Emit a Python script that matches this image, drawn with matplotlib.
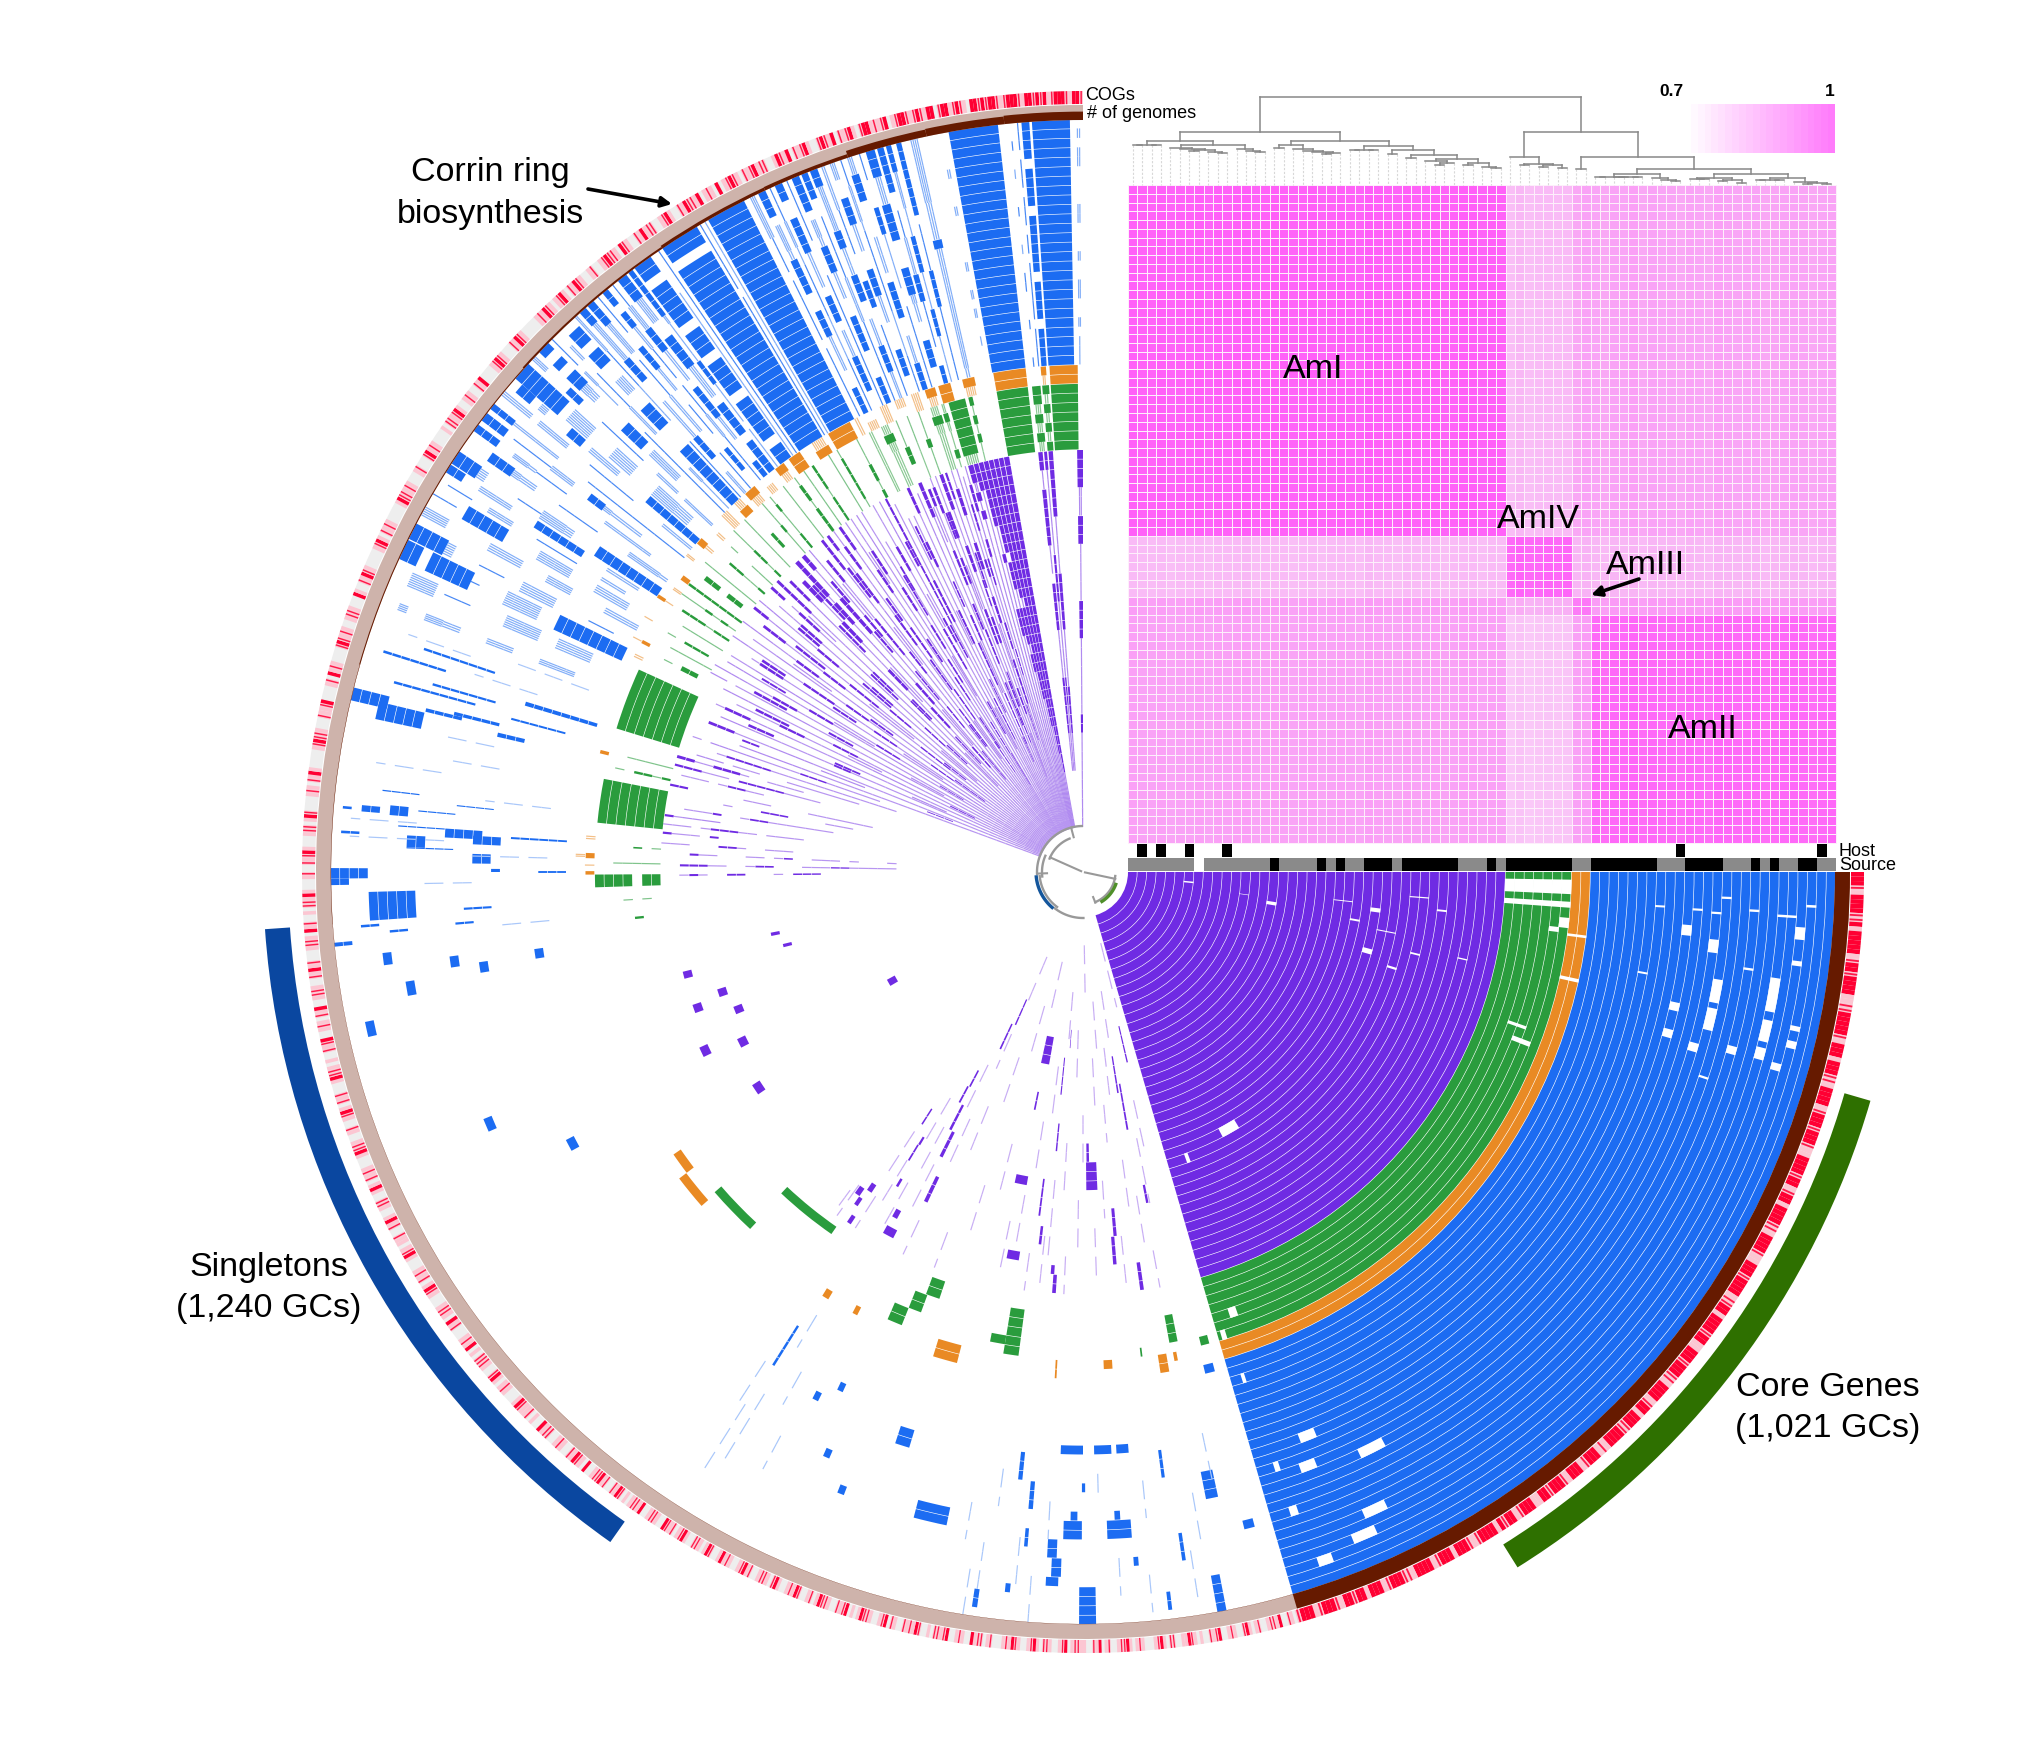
import matplotlib
matplotlib.use("Agg")
import matplotlib.pyplot as plt
import numpy as np
from matplotlib.collections import PatchCollection
from matplotlib.colors import LinearSegmentedColormap, ListedColormap, to_rgb
from matplotlib.patches import Wedge

plt.rcParams["font.family"] = ["Liberation Sans", "DejaVu Sans"]

# genome layers: AmI, AmIV, AmIII, AmII
group_sizes = [40, 7, 2, 26]
group_names = ["AmI", "AmIV", "AmIII", "AmII"]
group_colors = ["#6f2be3", "#2a9c3d", "#e98a24", "#1c6cf2"]
hair_strength = [0.5, 0.6, 0.5, 0.8]
ani = [
    [0.99, 0.835, 0.875, 0.875],
    [0.835, 0.98, 0.85, 0.843],
    [0.885, 0.855, 0.95, 0.89],
    [0.88, 0.815, 0.885, 0.975],
]
col_tweak = "211201120212301210120121032102112012202103012120210213021102103211201221012"
source_kind = "GGGGGGGWGGGGGGGBGGGGBGBGGBBBGBBBBBBGGGBGBBBBBBBGGBBBBBBBGGGBBBBGGGBGBGGBBGG"
host_cols = [1, 3, 6, 10, 58, 73]

# gene cluster rows: angle from, angle to, presence per genome
# '#' full, ':' fine hatch, '+' hairline, '.' none
purple_rows = [
    (269.2, 270.0, "::::::::::##::::::::####::::::###:::####"),
    (265.3, 265.9, "......::::#####::::::######::::::#######"),
    (264.7, 265.1, "......:::::::###::::::::#####:::::::::##"),
    (263.9, 264.5, "......::::######:::::#####.:::######::##"),
    (259.2, 259.9, "::::::##################################"),
    (258.5, 259.1, "::::::::################################"),
    (257.8, 258.4, ":::::::::::#############################"),
    (257.1, 257.7, "::::::::::::::##########:###############"),
    (256.4, 257.0, ":::::::::::::::::##:####::###.##########"),
    (255.7, 256.3, ":::::::::::::::::::::###:::::#:::#######"),
    (255.0, 255.6, ":::::::::::::::::::::::::::::::::::::###"),
    (254.2, 254.9, "+++++++++:::::::::::::::::::::::::#:#:##"),
    (253.6, 254.0, "+++++++++++++++++++:::::::::::##:::###::"),
    (253.0, 253.3, "+++++++++++++++++###+++++++###+++###+++."),
    (252.4, 252.8, "+++++++++:::::::++++###+++++##+++:::::::"),
    (251.6, 252.1, "++++++++++++++#####++++###+++###+++###++"),
    (251.2, 251.5, "..........####....:::::....####........."),
    (250.9, 251.2, "+++++++++++:::::::+++++++###++++:::::###"),
    (250.1, 250.6, "+++++++++++++###+++++###+++++###++++####"),
    (249.3, 249.8, "+++++++::::::::++++++####++++++++###++++"),
    (249.0, 249.3, "......:::::...####.......:::::...###...."),
    (248.6, 249.0, "++++++++++++++###++++++:::::###+++++###+"),
    (247.9, 248.3, "++++++++++####+++++####+++++####+++++##."),
    (247.5, 247.9, "............#####......###.......::::..."),
    (247.0, 247.5, "+++++++::::::+++++::::::++++++:::::+####"),
    (246.2, 246.6, "++++++++++######++++++###+++++++:::::::."),
    (245.8, 246.1, "........###.....::::::....###..........."),
    (245.3, 245.7, "+++++++++++++++++#####+++++:::::+++++###"),
    (244.4, 244.8, "++++++++:::::::+++++++####+++++###+++..."),
    (244.0, 244.3, "..............####....::::......####...."),
    (243.6, 243.9, "+++++++++++++++++++++++++++++++++++++..."),
    (242.7, 243.1, "+++++++++++#####+++++++++#####+++++++++."),
    (242.0, 242.3, "+++++++++++++++++++++++++###############"),
    (241.6, 241.95, "..........:::::......####.......###....."),
    (241.0, 241.4, "+++++++++++::::::++++++###++++++::::::::"),
    (240.5, 240.9, "............####.........::::..........."),
    (240.0, 240.4, "++++++++++++++++++++#####+++++++###+++++"),
    (239.0, 239.3, "+++++++++++++++::::::::+++++++###+++...."),
    (238.7, 239.0, "......####.......:::::.....#####........"),
    (238.2, 238.6, "++++++++++####+++++++++###++++++++++++++"),
    (237.4, 237.8, "++++++++::::::+++++###++++++###++++:::::"),
    (236.5, 236.9, "+++++++++++++++++###+++++++++++++###++++"),
    (236.0, 236.4, "...........####.......###.......::::...."),
    (235.6, 236.0, "++++++++####+++++++::::++++++++###:::+++"),
    (234.6, 235.0, "+++++++++++++++####++++####+++:::::++###"),
    (234.1, 234.5, "..........:::::....####.....###........."),
    (233.6, 234.0, "+++++++++::::::++++++++++####++++++###++"),
    (232.6, 233.0, "++++++++++++#####++++++++:::::+####+++##"),
    (232.1, 232.5, "............###........:::::....####...."),
    (231.6, 232.0, "++++++::::++++++++++++###++++++::::+####"),
    (230.4, 230.8, "+++++++++++++++###+++++++#####+++++###.."),
    (230.0, 230.35, "........####.......####.......:::::....."),
    (229.4, 229.8, "++++++++++++++++::::::++++++###++++:::::"),
    (228.9, 229.3, ".............:::::........###....###...."),
    (228.2, 228.8, "++++++++++###++++++###+++++++#####++++##"),
    (227.0, 227.6, "++++++++++++++++###++++:::::::+###+#####"),
    (226.5, 226.9, "...........####.....:::::.......#####..."),
    (225.8, 226.4, "+++++::::+++++++++++++###++++###+++###.."),
    (225.1, 225.5, "........:::::.....###.......####........"),
    (224.6, 225.0, "++++++++++++++++++###+++++++++++::::###."),
    (223.4, 223.8, "+++++++++++:::::+++++++###+++++++++#####"),
    (222.8, 223.2, "............###.......####.....::::....."),
    (222.2, 222.6, "+++++++++++++++###+++++::::::++++###+.##"),
    (221.0, 221.4, "++++++++++++++++++++++###+++++++###+++.."),
    (220.4, 220.8, "..........:::::.......####......###....."),
    (219.8, 220.2, "+++++++:::::+++++++###+++++++###++++::::"),
    (218.6, 219.0, "+++++++++++++++++++++++####++++++::::+##"),
    (218.0, 218.4, "...........###....::::::......####......"),
    (217.4, 217.8, "+++++++++++++####++++++++++###+++++###.."),
    (216.2, 216.6, "++++++++++++++++++++:::::+++++###+++::::"),
    (215.5, 215.9, "........####........###.....:::::......."),
    (215.0, 215.4, "++++++++++++###++++++++###+++++::::+++.."),
    (213.8, 214.2, "+++++++++++++++++++###+++++####+++++++::"),
    (213.2, 213.6, ".............:::::......###......###...."),
    (212.6, 213.0, "++++++++:::::+++++++++++:::::++++###+..."),
    (211.4, 211.8, "++++++++++++++++++###+++++++::::::::+++."),
    (210.9, 211.2, "..........###........:::::......###....."),
    (210.4, 210.8, "+++++++++++++++++::::+++++###++++++::::."),
    (209.2, 209.6, "++++++++++++++++++++++++++++++###+++::::"),
    (208.5, 208.9, "............::::.......###.....####....."),
    (208.0, 208.4, "+++++++++++++++::::+++++++++::::::+++.::"),
    (206.8, 207.2, "++++++++++++++++++++++###+++++++::::::.."),
    (206.2, 206.6, "........###........::::.......####......"),
    (205.6, 206.0, "++++++++++++++++::::++++++++###+++++...."),
    (204.4, 204.8, "+++++++++++++++++++++++++++++:::::###+.."),
    (203.5, 203.9, "...........::::......###.......###....."),
    (203.0, 203.4, "++++++++++++++++++++++##+++++++::::::..."),
    (201.6, 202.0, "++++++++++++++++++++++++++:::::++++###.."),
    (201.0, 201.3, "..........###.......:::::.......##....."),
    (200.0, 200.4, "++++++++++++++++++++++++++::::::::......"),
    (199.0, 199.3, "..................++++++###+++++:::::.+."),
    (197.8, 198.1, "................++++++++++++++#####+....."),
    (196.7, 197.0, "....................++++++++...+++.:::.."),
    (195.7, 196.1, "..........................++++..+###++##"),
    (194.6, 194.9, "........................++++#####.+++###"),
    (193.4, 193.7, "..............................++##+.+++."),
    (191.8, 192.1, "..................+++++++....+++......##"),
    (190.4, 190.7, "....................+++....###...+......"),
    (188.8, 189.1, "......................+++++++##+..#+++.."),
    (187.6, 187.9, "..................................::::+#"),
    (186.4, 186.7, ".........................++++.++###+.+++"),
    (185.2, 185.5, "..................................#.+++#"),
    (183.8, 184.1, "..........................+++..+##...+++"),
    (182.4, 182.7, "...............+...+.+++..#+.++...++#..."),
    (180.8, 181.1, "...............+++++##+++...##+..++###.."),
    (179.4, 179.7, ".......................###.+...##..+#+.."),
]
green_rows = [
    (266.2, 269.4, "#######"),
    (265.2, 266.0, "#:#:#:#"),
    (264.0, 265.0, ":#:#:##"),
    (259.8, 263.5, "#######"),
    (254.0, 256.0, ":######"),
    (256.4, 256.9, "::#:#:#"),
    (253.0, 253.6, ":#:::#:"),
    (251.6, 252.8, ":::::#:"),
    (250.0, 250.6, "+++#+++"),
    (248.6, 249.2, "::::+++"),
    (247.2, 247.8, "..##+++"),
    (245.4, 246.6, ":::::#:"),
    (243.8, 244.6, ":::::::"),
    (242.2, 242.6, "#+##+++"),
    (239.6, 239.9, "+#####+"),
    (238.4, 238.8, "+++++++"),
    (236.2, 236.5, "###+###"),
    (235.0, 235.3, "+++++++"),
    (233.6, 234.0, "###+##+"),
    (232.0, 232.3, "+++++++"),
    (230.0, 230.3, "##+++#+"),
    (228.8, 229.1, "+++#+++"),
    (227.2, 227.6, "..##..."),
    (226.0, 226.3, "+++++++"),
    (224.2, 224.5, "#+##+++"),
    (222.6, 222.9, "+++..+."),
    (221.0, 221.3, "#++##.."),
    (219.2, 219.5, "+++++++"),
    (217.6, 218.2, ".##.##."),
    (216.0, 216.3, "#######"),
    (214.6, 214.9, "+#+#+++"),
    (213.0, 213.3, "##+###."),
    (211.4, 211.7, "+++++.."),
    (209.8, 210.1, ".###.+."),
    (208.4, 208.7, "+++++.."),
    (206.6, 207.2, ".##.+.."),
    (197.1, 204.5, "#######"),
    (185.8, 191.0, "#######"),
    (192.4, 192.7, "#+##.+."),
    (194.0, 194.3, "+++++.."),
    (183.0, 183.2, "+.#...."),
    (181.0, 181.2, "+++++.."),
    (178.2, 179.7, "##.####"),
    (176.4, 176.6, ".+.+..."),
    (174.0, 174.3, "..#...."),
]
orange_rows = [
    (266.2, 269.4, "##"),
    (265.2, 265.8, ":#"),
    (259.8, 263.5, "##"),
    (256.2, 257.6, ":#"),
    (253.4, 254.8, "##"),
    (251.8, 253.0, ":#"),
    (250.0, 251.2, "::"),
    (248.0, 249.4, ".:"),
    (246.2, 247.4, "::"),
    (244.2, 245.6, ":."),
    (243.0, 243.8, "::"),
    (239.8, 242.6, "##"),
    (237.5, 239.2, "#:"),
    (234.5, 236.0, "##"),
    (232.6, 233.8, ":#"),
    (230.4, 231.6, ":."),
    (228.2, 229.6, ":#"),
    (226.4, 227.6, "#:"),
    (224.4, 225.6, "::"),
    (222.4, 223.2, ":."),
    (220.4, 221.2, ":#"),
    (218.4, 219.0, ".:"),
    (216.0, 216.6, "#."),
    (214.4, 215.0, ":."),
    (212.8, 213.2, ":#"),
    (210.0, 210.5, ".:"),
    (207.4, 207.8, "#:"),
    (205.4, 206.2, ":."),
    (193.8, 194.2, "#."),
    (183.6, 184.4, ":."),
    (181.6, 182.2, "#:"),
    (180.6, 181.0, ":."),
    (179.7, 180.1, "#."),
]
blue_rows = [
    (269.4, 269.9, ":::.:..::..:...::....::.:."),
    (266.1, 269.0, "##########################"),
    (265.3, 265.9, "####.####.######.####.####"),
    (264.9, 265.1, "++++.++++++.++.+++.+++.+++"),
    (264.3, 264.6, "+...+...++..:...+...:..+.."),
    (259.7, 263.5, "##########################"),
    (258.9, 259.4, "...:..:.:..:.....:...:...."),
    (256.6, 257.4, "::::::::::::::#:::::::::::"),
    (255.6, 256.0, "++++++++####+++++.########"),
    (254.8, 255.2, ":::::###::::####:::::::###"),
    (254.1, 254.6, "##..+++++###::::+++..#####"),
    (253.2, 253.9, "..###..:::###...####:::###"),
    (252.5, 252.9, "+++++++++..::::::###...+++"),
    (251.6, 252.2, "###:::..####.::::....###::"),
    (251.0, 251.4, "++++:::::+++++++++:::::+++"),
    (250.2, 250.8, "..###...:::###..:::###..::"),
    (249.5, 250.0, "++++++++..###...+++++:::::"),
    (248.7, 249.3, ":::###:::..###:::##:::::##"),
    (248.0, 248.5, "+++++++++:::::+++++++..###"),
    (247.2, 247.8, "###...####..:::###:::.####"),
    (246.6, 247.0, "+++++++++++++++....+++++++"),
    (245.8, 246.4, "..####:::.###.::::####..##"),
    (245.2, 245.6, "++++++:::::++++++:::::++++"),
    (244.4, 245.0, "###..::::###..####::::.###"),
    (243.6, 244.2, "++++++++.+++++++.++++:::::"),
    (240.1, 243.2, "##########################"),
    (239.7, 239.95, "::::::::::::::::::::::::::"),
    (239.3, 239.5, "+++++++++++++++++.++++++++"),
    (236.0, 239.1, "#######################.##"),
    (235.5, 235.8, "++++++++++++++++++++++++++"),
    (235.0, 235.3, ":::::::::::::::::::::....."),
    (233.4, 234.9, "##.#####.####.###.#####.##"),
    (232.8, 233.2, ":::::.:::::###::::::######"),
    (231.8, 232.6, "####.####.::::####..:::###"),
    (231.0, 231.6, "##...:::####.::::###:::+++"),
    (230.3, 230.8, "++++++:::++++.++++:::##.##"),
    (229.6, 230.1, "..###..++++..:::###..+++++"),
    (228.8, 229.4, "+++++...:::::+++++.::::###"),
    (228.0, 228.6, ":::..###:::::...###:::::##"),
    (227.4, 227.8, "++++++++...:::::+++++:::::"),
    (226.2, 227.3, "########...###..::..##.##."),
    (225.5, 226.0, "::::::.....::::+++++..::.."),
    (224.9, 225.3, "++++++++++++....:::::.++++"),
    (223.7, 224.7, "......::::.###....::##.#.#"),
    (222.8, 223.4, "::::.:::..++++++...##...::"),
    (221.0, 222.5, "..:::::...:::...:::.######"),
    (220.2, 221.0, "#######....::::.##...:.##."),
    (219.2, 219.9, "::::....++++++...::::.::::"),
    (218.0, 218.5, "+++++++++++++....::::::###"),
    (216.9, 217.6, ".....:::::##..:::+++++.###"),
    (215.9, 216.5, "...::::::.....++++:::..###"),
    (214.6, 215.4, ":::::....+++++...:::###..."),
    (212.9, 214.0, "########...::::+++....:###"),
    (212.1, 212.8, "..::::...######...::::..##"),
    (211.0, 211.7, "...:::...+++++...:::..+++."),
    (209.6, 210.8, "..::::...::::....#####.+++"),
    (208.2, 209.2, "::::....:::...::::.....:::"),
    (206.3, 207.6, "..+++....::::..+++...:####"),
    (204.6, 206.2, "########..::::...+#####.##"),
    (202.8, 204.2, "...::::..::::....+++.:::."),
    (200.8, 201.6, "....::::...:::...::::..:"),
]
# isolated blocks: angle from, angle to, first genome, last genome
scattered_blocks = [
    # blue, left side
    (193.2, 194.2, 71, 74), (192.2, 193.6, 67, 71), (193.7, 194.0, 63, 66), (194.0, 194.3, 59, 63),
    (193.0, 193.4, 56, 58), (196.6, 197.0, 49, 56), (195.3, 195.5, 62, 70), (196.0, 196.2, 60, 66),
    (197.4, 197.6, 66, 72), (198.6, 198.8, 61, 68), (194.9, 195.1, 52, 57),
    (182.1, 183.1, 65, 66), (180.8, 181.7, 58, 59), (180.0, 180.3, 57, 57), (183.1, 183.9, 59, 62),
    (182.6, 183.4, 57, 59), (183.3, 183.5, 50, 55), (183.0, 183.2, 72, 73), (184.9, 185.1, 73, 73),
    (184.8, 185.3, 70, 71), (184.7, 185.5, 67, 68), (179.9, 180.1, 50, 52), (185.2, 185.3, 62, 65),
    (183.8, 183.9, 63, 67), (186.0, 186.1, 58, 61), (186.6, 186.7, 66, 69), (182.0, 182.1, 62, 66),
    (179.5, 180.3, 71, 74), (179.0, 179.5, 73, 74), (176.1, 178.4, 66, 70), (175.6, 175.8, 70, 71),
    (175.0, 175.2, 67, 68), (174.3, 174.6, 73, 74), (176.5, 176.7, 58, 60), (175.2, 175.4, 60, 61),
    # singletons, blue
    (167.0, 168.2, 72, 72), (169.6, 170.8, 67, 67), (172.4, 173.4, 69, 69), (171.4, 172.4, 62, 62),
    (170.5, 171.5, 59, 59), (171.0, 172.0, 53, 53), (156.4, 157.6, 63, 63), (151.4, 152.6, 56, 56),
    (75.3, 76.2, 66, 66), (75.2, 76.3, 49, 49), (89.0, 90.3, 71, 74), (101.8, 104.7, 64, 65),
    (106.8, 108.2, 57, 58), (90.0, 92.2, 56, 56), (87.2, 88.9, 56, 56), (85.5, 86.7, 56, 56),
    (90.1, 91.7, 64, 65), (90.5, 91.1, 63, 63), (85.8, 87.9, 64, 65), (86.7, 87.2, 63, 63),
    (92.0, 93.0, 70, 70), (91.8, 92.6, 68, 69), (92.2, 93.0, 66, 67), (95.7, 96.1, 57, 59),
    (94.5, 94.9, 60, 62), (77.8, 78.9, 60, 62), (82.3, 82.6, 57, 59), (79.0, 79.7, 71, 74),
    (81.5, 81.8, 66, 68), (83.1, 83.4, 72, 73), (89.8, 90.1, 60, 60), (94.7, 95.0, 65, 66),
    (95.8, 96.2, 71, 71), (98.2, 98.6, 72, 73), (85.4, 85.8, 68, 68), (122.0, 122.25, 52, 56),
    (114.8, 115.4, 55, 55), (116.6, 117.2, 57, 57), (113.4, 114.0, 62, 62), (111.0, 111.6, 65, 65),
    # singletons, purple
    (165.0, 166.0, 38, 38), (161.0, 162.2, 35, 35), (160.0, 161.2, 38, 38), (157.7, 158.9, 34, 34),
    (154.0, 155.4, 39, 39), (152.8, 154.2, 35, 35), (145.6, 147.2, 36, 36), (149.4, 151.2, 18, 18),
    (168.4, 169.0, 28, 28), (165.9, 166.5, 27, 27), (99.4, 101.2, 36, 36), (100.2, 102.4, 28, 28),
    (87.4, 89.4, 26, 28), (88.8, 89.3, 24, 25), (100.0, 102.4, 13, 15), (113.6, 114.1, 10, 12),
    (114.8, 115.3, 13, 15), (117.0, 117.5, 23, 25), (116.2, 116.8, 26, 28), (115.2, 115.8, 31, 33),
    (117.6, 118.0, 19, 20), (118.0, 118.4, 21, 22), (122.4, 122.7, 25, 26), (120.8, 121.2, 28, 28),
    (121.0, 121.3, 29, 30), (120.4, 120.8, 33, 33), (124.6, 125.4, 36, 36), (124.0, 124.6, 37, 37),
    (123.4, 124.0, 39, 39), (123.4, 124.2, 35, 35), (118.2, 119.0, 36, 36), (117.4, 119.0, 38, 38),
    (101.3, 101.7, 19, 20), (95.5, 95.8, 15, 18), (94.1, 94.3, 12, 13), (95.3, 95.6, 22, 24),
    (97.1, 97.4, 28, 31), (96.4, 96.8, 33, 34), (76.7, 77.1, 12, 15), (80.8, 81.2, 15, 18),
    (80.0, 80.4, 18, 22), (78.8, 79.2, 29, 30), (84.7, 85.2, 31, 33), (85.1, 85.6, 34, 36),
    (81.7, 82.2, 37, 39), (94.1, 94.6, 37, 37), (93.7, 94.2, 38, 39),
    # singletons, orange and green
    (142.8, 145.4, 47, 47), (138.8, 142.8, 48, 48), (104.4, 107.2, 47, 48),
    (133.0, 139.0, 46, 46), (124.8, 133.2, 41, 41), (111.8, 113.6, 45, 46), (110.2, 111.8, 43, 44),
    (108.6, 110.4, 41, 42), (97.6, 99.4, 42, 43), (97.6, 99.4, 44, 46), (99.4, 101.2, 45, 45),
    (75.0, 76.0, 46, 46), (86.6, 87.6, 47, 47), (80.2, 81.2, 47, 48), (79.0, 79.4, 47, 47),
    (117.0, 117.6, 47, 47), (120.8, 121.6, 47, 47), (78.6, 79.6, 43, 45),
    (83.0, 83.2, 46, 46), (93.0, 93.2, 47, 48),
]
# faint dashes in the lower fan: angle, first genome, last genome
faint_lines = [
    (76.0, 3, 9), (77.5, 20, 24), (78.6, 24, 30), (79.5, 36, 39), (80.6, 30, 34), (81.3, 8, 12), (82.2, 26, 30),
    (83.2, 14, 18), (84.0, 34, 38), (84.9, 20, 23), (85.6, 9, 13), (86.4, 28, 31), (87.1, 15, 20), (88.1, 33, 38),
    (89.0, 3, 8), (90.0, 21, 25), (90.8, 30, 34), (91.7, 12, 16), (92.6, 36, 39), (93.4, 24, 29), (94.8, 8, 12),
    (95.2, 28, 35), (96.0, 34, 39), (97.2, 16, 20), (98.0, 36, 39), (99.0, 22, 27), (100.2, 30, 34), (101.8, 33, 38),
    (103.0, 5, 10), (104.6, 25, 30), (106.0, 10, 14), (107.4, 30, 35), (109.0, 16, 20), (110.6, 36, 39), (112.0, 22, 26),
    (113.0, 5, 9), (113.8, 14, 17), (114.6, 24, 29), (115.2, 36, 39), (116.2, 18, 22), (117.0, 30, 34), (118.6, 26, 30),
    (119.4, 33, 37), (120.4, 23, 27), (121.4, 31, 35), (122.6, 36, 39), (123.0, 28, 32), (125.6, 36, 39), (126.2, 37, 39),
    (78.0, 56, 60), (80.0, 62, 66), (81.0, 68, 72), (84.4, 60, 63), (84.6, 70, 73), (87.0, 68, 71), (88.6, 59, 61),
    (93.0, 62, 65), (94.2, 70, 74), (95.4, 66, 70), (97.6, 59, 62), (98.4, 67, 72), (99.2, 70, 74), (100.0, 63, 66),
    (121.4, 60, 68), (122.4, 62, 70), (123.0, 57, 61), (121.0, 50, 53), (119.4, 56, 59), (118.2, 63, 66),
    (181.5, 52, 60), (182.8, 63, 72), (184.2, 66, 72), (186.8, 52, 58), (188.8, 64, 70), (190.0, 58, 62), (192.0, 59, 64),
    (198.0, 56, 62), (199.4, 64, 70), (200.2, 51, 58), (179.0, 60, 64), (174.8, 52, 56),
]
core_theta = [0.0, 73.8]
# white gaps inside the core block
core_holes = [
    (58.6, 62.2, 26, 26), (69.6, 70.3, 27, 27), (8.9, 9.9, 15, 15), (7.0, 7.8, 26, 26), (15.0, 16.0, 26, 26),
    (5.0, 5.8, 6, 6), (6.0, 6.3, 33, 33), (13.7, 14.0, 31, 31), (9.8, 10.2, 24, 24), (17.0, 17.4, 29, 29),
    (0.9, 2.6, 40, 46), (3.5, 4.2, 40, 46), (5.4, 6.6, 46, 46), (6.6, 7.2, 45, 45), (19.2, 19.6, 43, 44),
    (20.8, 21.4, 44, 45), (70.7, 71.7, 44, 44), (72.8, 73.4, 46, 46), (7.2, 7.5, 47, 48), (12.2, 12.6, 47, 48),
    (9.6, 11.7, 63, 63), (8.7, 11.5, 69, 69), (5.0, 6.0, 59, 59), (4.4, 5.4, 71, 71), (6.1, 7.3, 62, 62),
    (12.4, 13.2, 59, 59), (12.2, 14.2, 63, 63), (12.2, 14.0, 69, 69), (15.0, 15.8, 59, 59), (15.6, 16.4, 62, 62),
    (15.0, 15.7, 66, 66), (14.5, 15.5, 69, 69), (15.4, 16.0, 71, 71), (13.4, 14.0, 72, 72), (12.2, 12.6, 72, 72),
    (7.1, 7.5, 71, 71), (67.5, 69.1, 59, 59), (62.2, 64.6, 63, 63), (68.5, 70.0, 62, 62), (71.7, 72.2, 61, 61),
    (64.4, 66.4, 69, 69), (71.4, 72.1, 66, 66), (66.0, 68.0, 71, 71), (70.0, 71.2, 72, 72), (72.2, 72.6, 51, 51),
    (3.3, 3.5, 56, 56), (3.6, 3.8, 62, 62), (8.2, 8.4, 66, 66), (18.2, 18.4, 64, 64), (10.1, 10.3, 55, 55),
    (3.4, 3.6, 60, 60), (3.2, 3.4, 66, 66), (3.5, 3.7, 69, 70), (2.2, 2.4, 63, 63), (2.6, 2.8, 72, 72),
    (6.2, 6.4, 22, 23), (4.2, 4.4, 30, 31), (11.0, 11.2, 27, 28), (12.8, 13.0, 36, 36), (7.8, 8.0, 12, 12),
]
# number of genomes ring: step starts and counts
genome_theta = [0, 73.8, 120, 176, 196, 222, 236, 245, 251.8, 258, 264, 270]
genome_count = [75, 1, 1, 2, 5, 10, 16, 18, 35, 38, 42]
# COGs ring: 0 none, 1 faint, 2 stripe on faint, 3 strong
cog_sectors = [
    (0, 74, "3332133332231333331233233331122333332133313332213333123332333211333323312331333322133332113332333312233133332331133323332213333123313332233331213332133312333233113332133231333321233313332133331223332133313323312333213332"),
    (74, 90, "0120031221002101320012100321200101231100220132100012101322100210312001"),
    (90, 130, "1221032100122013210012312100021022130012100321220100231212001203210012231010321200122310210023121001320122100213210012131002310122001321021230012210031221010231200213221003"),
    (130, 180, "0123120012100221300102112310001210132001222010312100021301221000123102121000132101120021310012200131021210001322100120012310212000132210100212300121021300122100213120001221031200102213100012"),
    (180, 225, "0021231000122013200001210213100000123221000211230000120312100002321210012210003100213210000012310212100000132212100012000231210000102212310012100213000012321000213210000"),
    (225, 270, "0121321012310213210012001232210321002131220012310021322130121030123210212312200132130212310023213021231023312123012332123213302331232103323233212333213323231233321332"),
]

# dendrogram: (height, left, right), 0 is a leaf
tree_ami = (53,
    (44,
     (40, (40, 0, 0), (40, 0, 0)),
     (40,
      (37, 0, (36, 0, (35, (34, 0, 0), (33, 0, (32, 0, 0))))),
      (36, 0, (34, 0, (33, 0, 0))))),
    (44,
     (40, (37, 0, 0), (36, 0, (34, 0, (33, 0, (32, (31, 0, 0), 0))))),
     (39,
      (35, (35, 0, 0), (35, 0, 0)),
      (35, (31, 0, 0),
       (30, (27, 0, 0),
        (26, (24, 0, (22, (20, 0, 0), 0)), (22, (20, 0, 0), (18, 0, (17, 0, 0)))))))))
tree_amiv = (28, 0, (21, (20, 0, 0), (20, (18, 0, 0), (17, 0, 0))))
tree_amii = (16,
    (11, (8, (8, 0, 0), (8, (8, 0, 0), (8, 0, 0))), (7, 0, (5, 0, (4, 0, 0)))),
    (11,
     (7, (6, 0, (6, 0, 0)), (5, (4, 0, 0), (2, 0, 0))),
     (7, (5, (5, 0, 0), (5, 0, 0)), (3, 0, (2, (1, 0, 0), (1, 0, 0))))))
tree_root = (88, tree_ami, (53, tree_amiv, (28, (16, 0, 0), tree_amii)))

cx, cy = 1083, 872
r0, dr = 45, 9.44
ring_gap = 0.6
n_genomes = sum(group_sizes)
group_of = np.repeat(np.arange(4), group_sizes)
group_start = np.cumsum([0] + group_sizes[:-1])

fig = plt.figure(figsize=(20.18, 17.44), dpi=100)
ax = fig.add_axes([0, 0, 1, 1])
ax.set_xlim(0, 2018)
ax.set_ylim(1744, 0)
ax.axis("off")


def pale(color, a):
    c = np.array(to_rgb(color))
    return tuple(1 - a * (1 - c))


wedges, colors = [], []


def add_wedge(t0, t1, ra, rb, color):
    # the y axis points down so angles run clockwise on screen
    wedges.append(Wedge((cx, cy), rb, t0, t1, width=rb - ra))
    colors.append(color)


def add_cell(t0, t1, g, color):
    add_wedge(t0, t1, r0 + g * dr, r0 + (g + 1) * dr - ring_gap, color)


def add_hair(t, g, color):
    # about a pixel wide whatever the radius
    half = np.degrees(0.6 / (r0 + (g + 0.5) * dr))
    add_wedge(t - half, t + half, r0 + g * dr, r0 + (g + 1) * dr, color)


def add_hatch(t0, t1, g, color):
    # fine parallel hairlines, spaced a couple of pixels
    r = r0 + (g + 0.5) * dr
    n = max(1, int(np.radians(t1 - t0) * r / 2.4))
    for t in np.linspace(t0, t1, n + 2)[1:-1]:
        add_hair(t, g, color)


# core
for g in range(n_genomes):
    add_cell(core_theta[0], core_theta[1], g, group_colors[group_of[g]])
for t0, t1, a, b in core_holes:
    for g in range(a, b + 1):
        add_wedge(t0, t1, r0 + g * dr - ring_gap, r0 + (g + 1) * dr, "white")

# accessory rows
for idx, rows in enumerate([purple_rows, green_rows, orange_rows, blue_rows]):
    for t0, t1, s in rows:
        for i, ch in enumerate(s[:group_sizes[idx]]):
            g = group_start[idx] + i
            if ch == "#":
                add_cell(t0, t1, g, group_colors[idx])
            elif ch == ":":
                add_hatch(t0, t1, g, pale(group_colors[idx], 0.55))
            elif ch == "+":
                add_hair((t0 + t1) / 2, g, pale(group_colors[idx], hair_strength[idx]))
for t0, t1, a, b in scattered_blocks:
    for g in range(a, b + 1):
        add_cell(t0, t1, g, group_colors[group_of[g]])
for t, a, b in faint_lines:
    for g in range(a, b + 1):
        if (g - a) % 3 != 2:
            add_hair(t, g, pale(group_colors[group_of[g]], 0.38))

# number of genomes ring
add_wedge(0, 270, 752, 767, "#ceb3ab")
for i in range(len(genome_count)):
    add_wedge(genome_theta[i], genome_theta[i + 1], 752, 752 + genome_count[i] / n_genomes * 15, "#661a00")

# COGs ring
add_wedge(0, 270, 768, 781, "#eeeeee")
for t0, t1, s in cog_sectors:
    step = (t1 - t0) / len(s)
    for i, ch in enumerate(s):
        a = t0 + i * step
        if ch == "3":
            add_wedge(a, a + step, 768, 781, "#ff0033")
        elif ch == "1":
            add_wedge(a, a + step, 768, 781, "#fcc6d2")
        elif ch == "2":
            add_wedge(a, a + step, 768, 781, "#fcc6d2")
            add_wedge(a + 0.3 * step, a + 0.7 * step, 768, 781, "#ff1a4a")

# outer bars
add_wedge(125.2, 176, 795, 820, "#0a47a0")
add_wedge(16.2, 58, 793, 820, "#2e7000")

ax.add_collection(PatchCollection(wedges, facecolors=colors, edgecolors="none", linewidths=0))

# centre tree
tree_arcs = [(88, 129, 46), (176, 270, 46), (200, 250, 36), (172, 205, 41), (5, 70, 32.5), (125, 176, 43.5)]
for t0, t1, r in tree_arcs:
    tt = np.radians(np.linspace(t0, t1, 60))
    ax.plot(cx + r * np.cos(tt), cy + r * np.sin(tt), color="#999999", lw=1.7, solid_capstyle="butt")
tree_spokes = [(204, 2, 36), (12, 2, 33), (178, 36, 46), (255, 36, 46), (68, 27, 33)]
for t, ra, rb in tree_spokes:
    tt = np.radians(t)
    ax.plot([cx + ra * np.cos(tt), cx + rb * np.cos(tt)], [cy + ra * np.sin(tt), cy + rb * np.sin(tt)],
            color="#999999", lw=1.5)
for t0, t1, r, col in [(129, 176, 47, "#14569c"), (18, 60, 35, "#4f8f2a")]:
    tt = np.radians(np.linspace(t0, t1, 40))
    ax.plot(cx + r * np.cos(tt), cy + r * np.sin(tt), color=col, lw=2.4, solid_capstyle="butt")

# heatmap
hx = 1128 + dr * np.arange(n_genomes + 1)
hy = 185 + 8.77 * np.arange(n_genomes + 1)
mat = np.array([[ani[group_of[i]][group_of[j]] + (int(col_tweak[j]) - 1) * 0.004
                 for j in range(n_genomes)] for i in range(n_genomes)])
heat_cmap = LinearSegmentedColormap.from_list("ani", ["#ffffff", "#f8b4f5", "#ff5cf8"])
ax.pcolormesh(hx, hy, mat, cmap=heat_cmap, vmin=0.7, vmax=1, edgecolors="#fdeefb", linewidth=0.5)

# host and source strips
src = np.array([[{"G": 1, "B": 2, "W": 0}[c] for c in source_kind]])
strip_cmap = ListedColormap(["#ffffff", "#8a8a8a", "#000000"])
ax.pcolormesh(hx, [858, 871], src, cmap=strip_cmap, vmin=0, vmax=2)
host = np.zeros((1, n_genomes))
host[0, host_cols] = 2
ax.pcolormesh(hx, [844, 857], host, cmap=strip_cmap, vmin=0, vmax=2)

# colour key
key_cmap = LinearSegmentedColormap.from_list("key", ["#ffffff", "#ff7cfb"])
ax.pcolormesh(np.linspace(1684, 1835, 23), [104, 153], np.linspace(0.7, 1, 22)[None, :], cmap=key_cmap, vmin=0.7, vmax=1)


# dendrogram
def count_leaves(node):
    if node == 0:
        return 1
    return count_leaves(node[1]) + count_leaves(node[2])


def draw_tree(node, left):
    if node == 0:
        return left + 0.5, None
    h, a, b = node
    xa, ha = draw_tree(a, left)
    na = count_leaves(a)
    xb, hb = draw_tree(b, left + na)
    xs = [1128 + dr * xa, 1128 + dr * xb]
    top = 185 - h
    for xv, child in zip(xs, [ha, hb]):
        if child is None:
            ax.plot([xv, xv], [top, 185], color="#d8d8d8", lw=0.8, ls=(0, (2, 1.5)))
        else:
            ax.plot([xv, xv], [top, 185 - child], color="#888888", lw=1.1)
    ax.plot(xs, [top, top], color="#888888", lw=1.1)
    return (xa + xb) / 2, h


draw_tree(tree_root, 0)

# labels
big = 24.5
ax.text(490, 173, "Corrin ring", fontsize=big, ha="center", va="center")
ax.text(490, 214, "biosynthesis", fontsize=big, ha="center", va="center")
ax.text(269, 1267, "Singletons", fontsize=big, ha="center", va="center")
ax.text(269, 1308, "(1,240 GCs)", fontsize=big, ha="center", va="center")
ax.text(1828, 1387, "Core Genes", fontsize=big, ha="center", va="center")
ax.text(1828, 1428, "(1,021 GCs)", fontsize=big, ha="center", va="center")
ax.text(1313, 370, group_names[0], fontsize=big, ha="center", va="center")
ax.text(1538, 519, group_names[1], fontsize=big, ha="center", va="center")
ax.text(1645, 565, group_names[2], fontsize=big, ha="center", va="center")
ax.text(1703, 729, group_names[3], fontsize=big, ha="center", va="center")
ax.text(1085, 96, "COGs", fontsize=13, ha="left", va="center")
ax.text(1087, 114, "# of genomes", fontsize=13, ha="left", va="center")
ax.text(1839, 851, "Host", fontsize=13, ha="left", va="center")
ax.text(1839, 865, "Source", fontsize=13, ha="left", va="center")
ax.text(1671, 92, "0.7", fontsize=12.5, fontweight="bold", ha="center", va="center")
ax.text(1830, 92, "1", fontsize=12.5, fontweight="bold", ha="center", va="center")
ax.annotate("", xy=(672, 204), xytext=(588, 189),
            arrowprops=dict(arrowstyle="-|>,head_width=0.3,head_length=0.6", color="black", lw=2.6, shrinkA=0, shrinkB=0))
ax.annotate("", xy=(1591, 595), xytext=(1639, 579),
            arrowprops=dict(arrowstyle="-|>,head_width=0.3,head_length=0.6", color="black", lw=2.6, shrinkA=0, shrinkB=0))

fig.savefig("out.png", dpi=100)
